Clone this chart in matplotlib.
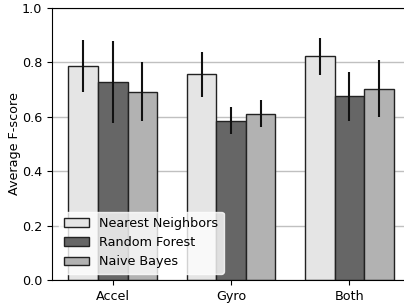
import matplotlib.pyplot as plt
import numpy as np

sensors = ["Accel", "Gyro", "Both"]
classifiers = ["Nearest Neighbors", "Random Forest", "Naive Bayes"]

nearest_scores = [0.787, 0.755, 0.822]
nearest_errors = [0.095, 0.083, 0.068]
forest_scores = [0.727, 0.585, 0.675]
forest_errors = [0.151, 0.049, 0.090]
bayes_scores = [0.692, 0.611, 0.703]
bayes_errors = [0.107, 0.050, 0.106]

bar_colors = ["#e5e5e5", "#666666", "#b2b2b2"]

plt.rcParams["font.size"] = 9.2

figure = plt.figure(figsize=(4.04, 3.05), dpi=100)
# right edge of the axes sits a bit past the figure, as in the cropped original
axis = figure.add_axes([0.129, 0.082, 0.886, 0.893])

positions = np.arange(len(sensors))
width = 0.25
series = [
    (nearest_scores, nearest_errors),
    (forest_scores, forest_errors),
    (bayes_scores, bayes_errors),
]

for index, (scores, errors) in enumerate(series):
    axis.bar(
        positions + (index - 1) * width,
        scores,
        width,
        yerr=errors,
        color=bar_colors[index],
        edgecolor="#222222",
        linewidth=1.0,
        error_kw={"ecolor": "#111111", "elinewidth": 1.5, "capsize": 0},
        label=classifiers[index],
        zorder=2,
    )

axis.set_ylim(0.0, 1.0)
axis.set_yticks(np.arange(0.0, 1.01, 0.2))
axis.set_xticks(positions)
axis.set_xticklabels(sensors)
axis.set_ylabel("Average F-score", labelpad=1)

axis.yaxis.grid(True, color="#c0c0c0", linewidth=1.0, zorder=0)
axis.set_axisbelow(True)

axis.legend(loc="lower left", framealpha=0.8, edgecolor="white")

figure.savefig("out.png", dpi=100)
plt.close(figure)
